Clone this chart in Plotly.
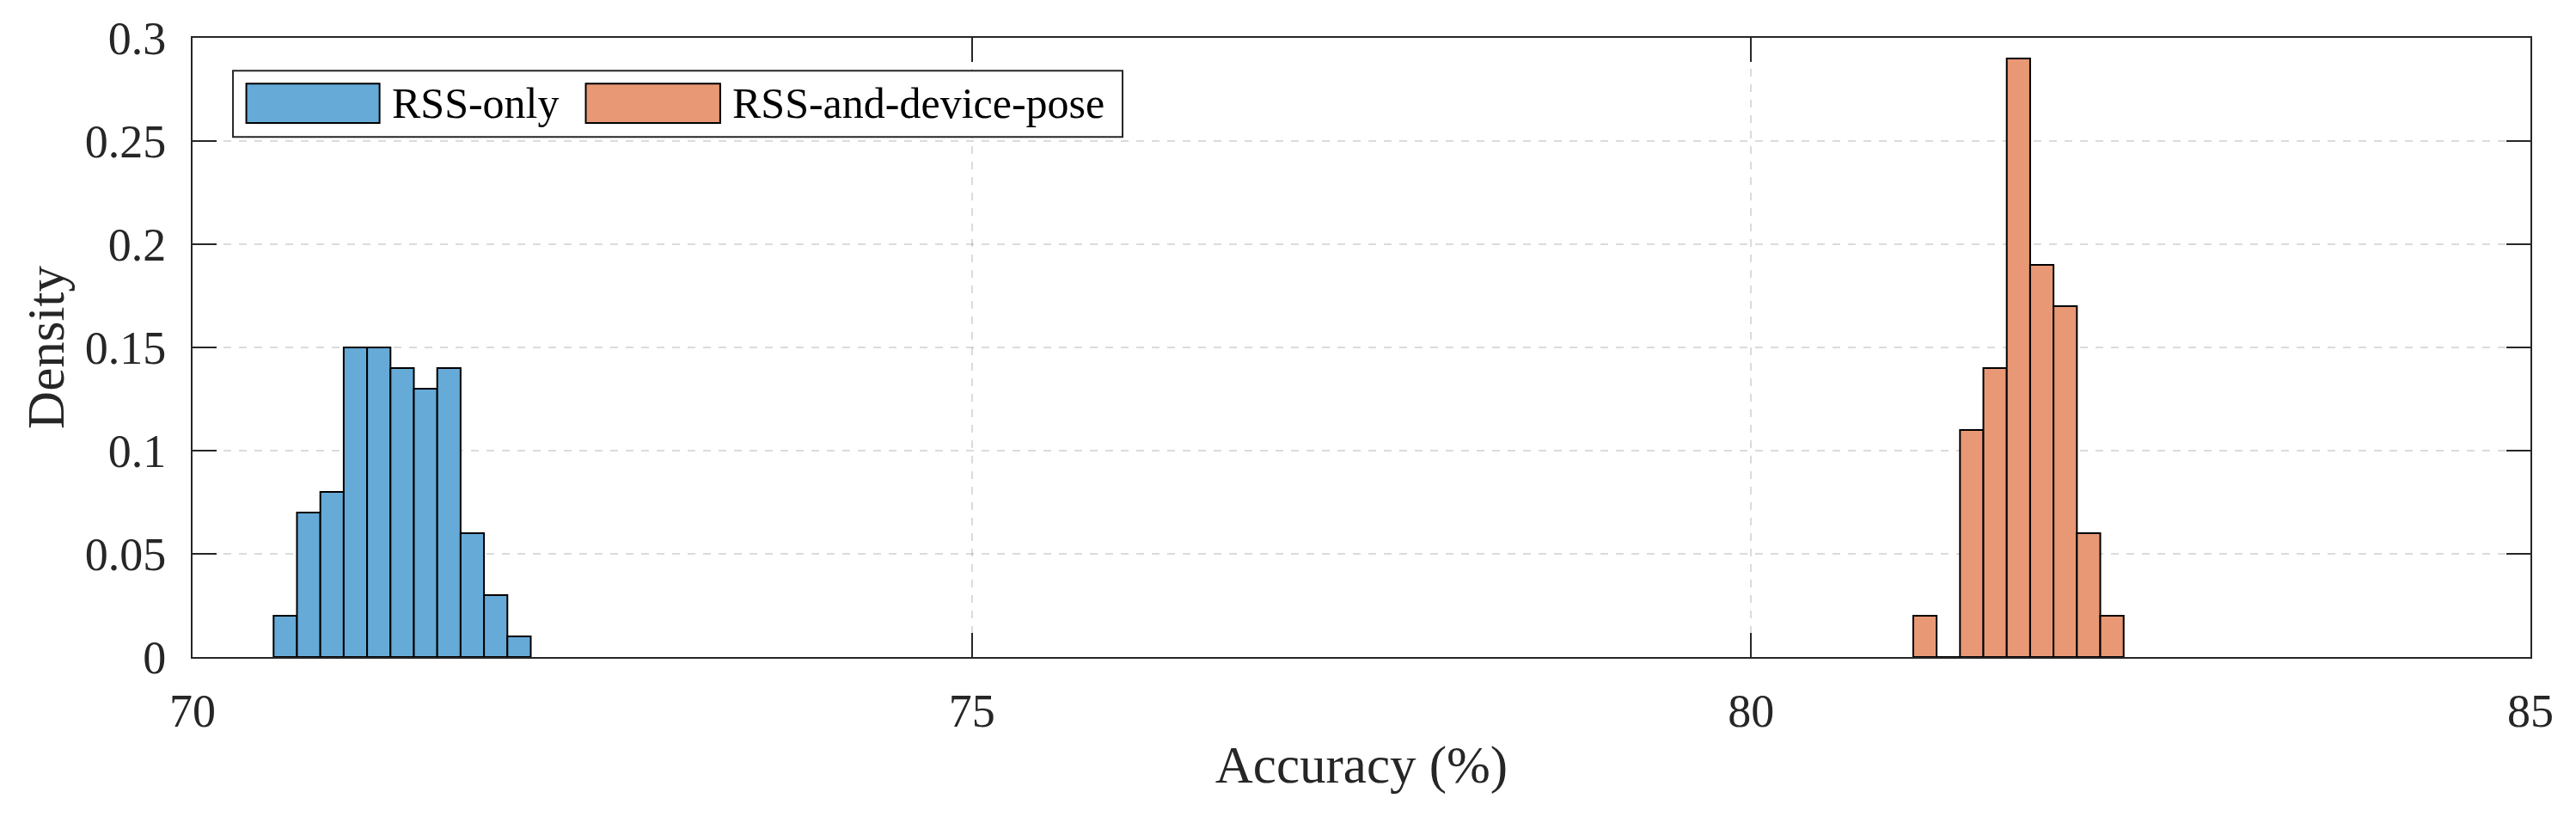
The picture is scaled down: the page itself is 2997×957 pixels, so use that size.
import plotly.graph_objects as go

# histogram bins (left edges) and densities
BIN_WIDTH = 0.15
rss_only_edges = [70.52, 70.67, 70.82, 70.97, 71.12, 71.27, 71.42, 71.57, 71.72, 71.87, 72.02]
rss_only_density = [0.02, 0.07, 0.08, 0.15, 0.15, 0.14, 0.13, 0.14, 0.06, 0.03, 0.01]

rss_pose_edges = [81.04, 81.19, 81.34, 81.49, 81.64, 81.79, 81.94, 82.09, 82.24]
rss_pose_density = [0.02, 0.0, 0.11, 0.14, 0.29, 0.19, 0.17, 0.06, 0.02]

x_ticks = [70, 75, 80, 85]
y_ticks = [0, 0.05, 0.1, 0.15, 0.2, 0.25, 0.3]

BLUE = "#66AAD7"
ORANGE = "#E89875"
AX = "#262626"
FONT = "Liberation Serif, Times New Roman, serif"

fig = go.Figure()
fig.add_trace(go.Bar(name="RSS-only", x=rss_only_edges, y=rss_only_density,
                     width=BIN_WIDTH, offset=0,
                     marker=dict(color=BLUE, line=dict(color="black", width=2))))
fig.add_trace(go.Bar(name="RSS-and-device-pose", x=rss_pose_edges, y=rss_pose_density,
                     width=BIN_WIDTH, offset=0,
                     marker=dict(color=ORANGE, line=dict(color="black", width=2))))

axis_common = dict(showline=True, linecolor=AX, linewidth=2, mirror="ticks",
                   ticks="inside", ticklen=28, tickwidth=2, tickcolor=AX,
                   showgrid=True, gridcolor="rgba(0,0,0,0.14)", griddash="dash",
                   gridwidth=2, zeroline=False, layer="above traces",
                   tickfont=dict(family=FONT, size=54, color=AX))

fig.update_xaxes(range=[70, 85], tickvals=x_ticks, ticklabelstandoff=14,
                 title=dict(text="Accuracy (%)", font=dict(family=FONT, size=61, color=AX),
                            standoff=12),
                 **axis_common)
fig.update_yaxes(range=[0, 0.3], tickvals=y_ticks, ticklabelstandoff=18,
                 title=dict(text="Density", font=dict(family=FONT, size=61, color=AX),
                            standoff=4),
                 **axis_common)

# legend drawn by hand so the swatches match the wide MATLAB patches
legend_items = [("RSS-only", BLUE, 0.0230, 0.0800, 0.0844),
                ("RSS-and-device-pose", ORANGE, 0.1682, 0.2257, 0.2301)]
fig.add_shape(type="rect", xref="paper", yref="paper", x0=0.0173, x1=0.3978,
              y0=0.840, y1=0.947, line=dict(color=AX, width=2), fillcolor="white")
for name, col, sx0, sx1, tx in legend_items:
    fig.add_shape(type="rect", xref="paper", yref="paper", x0=sx0, x1=sx1,
                  y0=0.8625, y1=0.926, line=dict(color="black", width=2), fillcolor=col)
    fig.add_annotation(text=name, xref="paper", yref="paper", x=tx, y=0.894,
                       xanchor="left", yanchor="middle", showarrow=False,
                       font=dict(family=FONT, size=50, color="black"))

fig.update_layout(width=2997, height=957, barmode="overlay", showlegend=False,
                  plot_bgcolor="white", paper_bgcolor="white",
                  margin=dict(l=224, r=53, t=44, b=193))

# drop the browser's default body margin so the figure sits at the page corner
fig.write_html("out.html", config={"displayModeBar": False},
               post_script="document.body.style.margin='0';")
